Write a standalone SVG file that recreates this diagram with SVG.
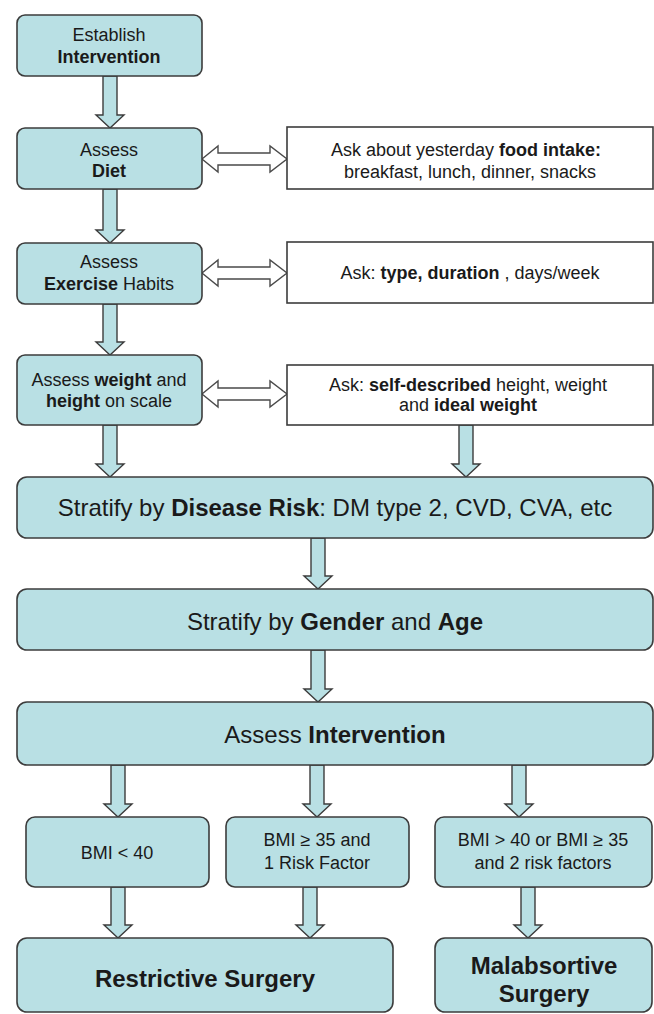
<svg xmlns="http://www.w3.org/2000/svg" width="654" height="1014" viewBox="0 0 654 1014">
<style>
.box{fill:#b9e0e4;stroke:#3c3c3c;stroke-width:1.6}
.wbox{fill:#ffffff;stroke:#3c3c3c;stroke-width:1.6}
.arr{fill:#b9e0e4;stroke:#3c3c3c;stroke-width:1.4;stroke-linejoin:miter}
.darr{fill:#ffffff;stroke:#4a4a4a;stroke-width:1.4}
text{font-family:"Liberation Sans",Arial,sans-serif;fill:#1a1a1a;text-anchor:middle}
.t18{font-size:18px}
.t24{font-size:24px}
.b{font-weight:bold}
</style>
<rect width="654" height="1014" fill="#ffffff"/>
<g id="connectors">
<path class="arr" d="M103 76 L117 76 L117 115 L124 115 L110 128 L96 115 L103 115 Z"/>
<path class="arr" d="M103 189 L117 189 L117 230 L124 230 L110 243 L96 230 L103 230 Z"/>
<path class="arr" d="M103 304 L117 304 L117 342 L124 342 L110 355 L96 342 L103 342 Z"/>
<path class="arr" d="M103 425 L117 425 L117 464 L124 464 L110 477 L96 464 L103 464 Z"/>
<path class="arr" d="M459 425 L473 425 L473 464 L480 464 L466 477 L452 464 L459 464 Z"/>
<path class="arr" d="M311 538 L325 538 L325 576 L332 576 L318 589 L304 576 L311 576 Z"/>
<path class="arr" d="M311 650 L325 650 L325 689 L332 689 L318 702 L304 689 L311 689 Z"/>
<path class="arr" d="M111 765 L125 765 L125 804 L132 804 L118 817 L104 804 L111 804 Z"/>
<path class="arr" d="M310 765 L324 765 L324 804 L331 804 L317 817 L303 804 L310 804 Z"/>
<path class="arr" d="M512 765 L526 765 L526 804 L533 804 L519 817 L505 804 L512 804 Z"/>
<path class="arr" d="M111 887 L125 887 L125 925 L132 925 L118 938 L104 925 L111 925 Z"/>
<path class="arr" d="M303 887 L317 887 L317 925 L324 925 L310 938 L296 925 L303 925 Z"/>
<path class="arr" d="M521 887 L535 887 L535 925 L542 925 L528 938 L514 925 L521 925 Z"/>
<path class="darr" d="M202 159 L218 146 L218 153 L270 153 L270 146 L287 159 L270 172 L270 165 L218 165 L218 172 Z"/>
<path class="darr" d="M202 273 L218 260 L218 267 L270 267 L270 260 L287 273 L270 286 L270 279 L218 279 L218 286 Z"/>
<path class="darr" d="M202 394 L218 381 L218 388 L270 388 L270 381 L287 394 L270 407 L270 400 L218 400 L218 407 Z"/>
</g>
<g id="n1">
<rect class="box" x="17" y="15" width="185" height="61" rx="8"/>
<text class="t18" x="109" y="41">Establish</text>
<text class="t18 b" x="109" y="63">Intervention</text>
</g>
<g id="n2">
<rect class="box" x="17" y="128" width="185" height="61" rx="8"/>
<text class="t18" x="109" y="156">Assess</text>
<text class="t18 b" x="109" y="177">Diet</text>
</g>
<g id="r2">
<rect class="wbox" x="287" y="127" width="366" height="62"/>
<text class="t18" x="466" y="156">Ask about yesterday <tspan class="b">food intake:</tspan></text>
<text class="t18" x="470" y="178">breakfast, lunch, dinner, snacks</text>
</g>
<g id="n3">
<rect class="box" x="17" y="243" width="185" height="61" rx="8"/>
<text class="t18" x="109" y="268">Assess</text>
<text class="t18" x="109" y="290"><tspan class="b">Exercise</tspan> Habits</text>
</g>
<g id="r3">
<rect class="wbox" x="287" y="242" width="366" height="61"/>
<text class="t18" x="470" y="279">Ask: <tspan class="b">type, duration</tspan> , days/week</text>
</g>
<g id="n4">
<rect class="box" x="17" y="355" width="185" height="70" rx="8"/>
<text class="t18" x="109" y="386">Assess <tspan class="b">weight</tspan> and</text>
<text class="t18" x="109" y="407"><tspan class="b">height</tspan> on scale</text>
</g>
<g id="r4">
<rect class="wbox" x="287" y="365" width="366" height="60"/>
<text class="t18" x="468" y="391">Ask: <tspan class="b">self-described</tspan> height, weight</text>
<text class="t18" x="468" y="411">and <tspan class="b">ideal weight</tspan></text>
</g>
<g id="n5">
<rect class="box" x="17" y="477" width="636" height="61" rx="10"/>
<text class="t24" x="335" y="516">Stratify by <tspan class="b">Disease Risk</tspan>: DM type 2, CVD, CVA, etc</text>
</g>
<g id="n6">
<rect class="box" x="17" y="589" width="636" height="61" rx="10"/>
<text class="t24" x="335" y="630">Stratify by <tspan class="b">Gender</tspan> and <tspan class="b">Age</tspan></text>
</g>
<g id="n7">
<rect class="box" x="17" y="702" width="636" height="63" rx="10"/>
<text class="t24" x="335" y="743">Assess <tspan class="b">Intervention</tspan></text>
</g>
<g id="n8">
<rect class="box" x="26" y="817" width="183" height="70" rx="9"/>
<text class="t18" x="117" y="859">BMI &lt; 40</text>
</g>
<g id="n9">
<rect class="box" x="226" y="817" width="183" height="70" rx="9"/>
<text class="t18" x="317" y="846">BMI ≥ 35 and</text>
<text class="t18" x="317" y="869">1 Risk Factor</text>
</g>
<g id="n10">
<rect class="box" x="435" y="817" width="217" height="70" rx="9"/>
<text class="t18" x="543" y="846">BMI &gt; 40 or BMI ≥ 35</text>
<text class="t18" x="543" y="869">and 2 risk factors</text>
</g>
<g id="n11">
<rect class="box" x="17" y="938" width="376" height="74" rx="10"/>
<text class="t24 b" x="205" y="987">Restrictive Surgery</text>
</g>
<g id="n12">
<rect class="box" x="435" y="938" width="217" height="74" rx="10"/>
<text class="t24 b" x="544" y="974">Malabsortive</text>
<text class="t24 b" x="544" y="1002">Surgery</text>
</g>
</svg>
